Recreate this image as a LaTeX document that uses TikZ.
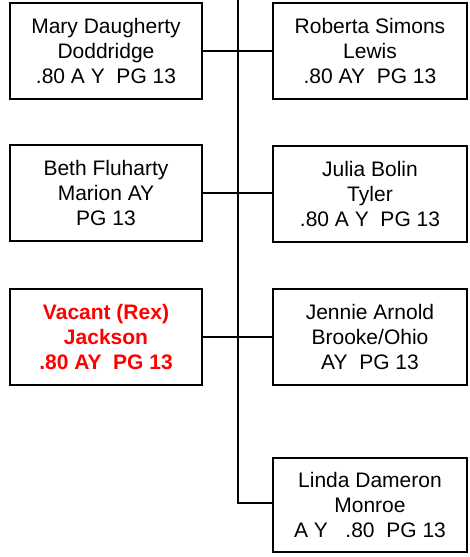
\documentclass[tikz,border=0pt]{standalone}
\usepackage{fontspec}
\setmainfont{Liberation Sans}
\begin{document}
\begin{tikzpicture}[x=1pt,y=-1pt,
  box/.style={draw=black,line width=2pt,rectangle,align=center,inner sep=0pt,
    font=\fontsize{21}{25}\selectfont,text=black},
  lbox/.style={box,minimum width=192pt,minimum height=96pt},
  rbox/.style={box,minimum width=194pt,minimum height=96pt},
  vac/.style={text=red,font=\fontsize{21}{25}\selectfont\bfseries},
  conn/.style={line width=2pt}]
\useasboundingbox (0,0) rectangle (470,557);
\node[lbox] (mary) at (106,51) {Mary Daugherty\\Doddridge\\.80 A Y\ \ PG 13};
\node[rbox] (roberta) at (370,51) {Roberta Simons\\Lewis\\.80 AY\ \ PG 13};
\node[lbox] (beth) at (106,193) {Beth Fluharty\\Marion AY\\PG 13};
\node[rbox] (julia) at (370,194) {Julia Bolin\\Tyler\\.80 A Y\ \ PG 13};
\node[lbox,vac] (vacant) at (106,337) {Vacant (Rex)\\Jackson\\.80 AY\ \ PG 13};
\node[rbox] (jennie) at (370,337) {Jennie Arnold\\Brooke/Ohio\\AY\ \ PG 13};
\node[rbox,minimum height=94pt] (linda) at (370,505) {Linda Dameron\\Monroe\\A Y\ \ \ .80\ \ PG 13};
\coordinate (top) at (238,0);
\coordinate (bot) at (238,503);
\draw[conn] (top) -- (bot) -- (bot -| linda.west);
\draw[conn] (mary.east) -- (mary.east -| top);
\draw[conn] (roberta.west) -- (roberta.west -| top);
\draw[conn] (beth.east) -- (beth.east -| top);
\draw[conn] (julia.west |- beth.east) -- (beth.east -| top);
\draw[conn] (vacant.east) -- (vacant.east -| top);
\draw[conn] (jennie.west) -- (jennie.west -| top);
\end{tikzpicture}
\end{document}
